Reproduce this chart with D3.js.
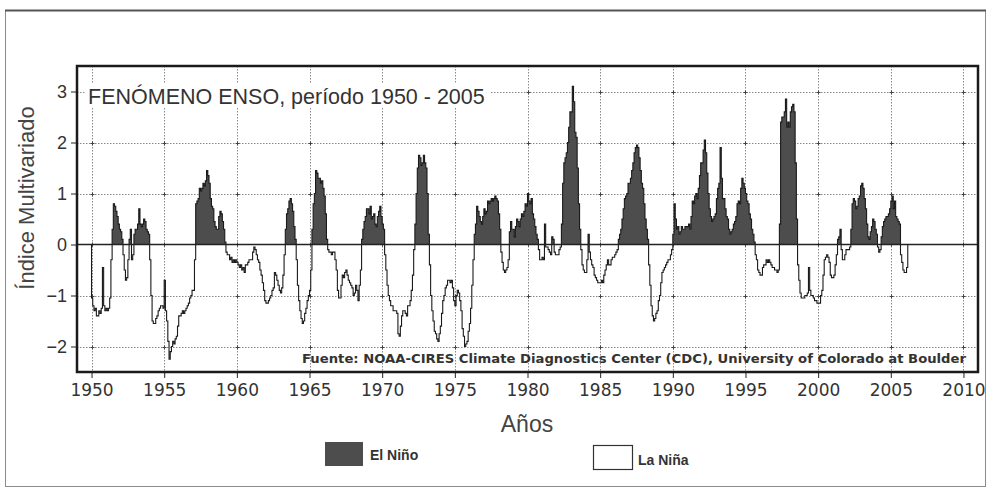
<!DOCTYPE html>
<html>
<head>
<meta charset="utf-8">
<script src="https://cdn.jsdelivr.net/npm/d3@7"></script>
<style>
  body { margin: 0; background: #fff; }
  svg { display: block; }
  .grid line { stroke: #8a8a8a; stroke-width: 1; stroke-dasharray: 1.5,1.5; }
  .axis path, .axis line { stroke: #222; }
  .axis text { fill: #333; }
</style>
</head>
<body>
<div id="chart"></div>
<script>
// Indice Multivariado ENSO (MEI), valores mensuales
const mei1950s = [
  -1.05, -1.2, -1.3, -1.25, -1.4, -1.4, -1.3, -1.35, -1.25, -0.45, -1.2, -1.3,
  -1.25, -1.3, -1.25, -1.05, -0.3, 0.3, 0.8, 0.75, 0.65, 0.55, 0.4, 0.3,
  0.25, 0.1, -0.2, -0.5, -0.7, -0.65, -0.3, 0.1, 0.3, -0.3, -0.2, 0.2,
  0.3, 0.3, 0.4, 0.7, 0.4, 0.35, 0.4, 0.5, 0.45, 0.3, 0.25, 0.2,
  -0.3, -1.0, -1.5, -1.55, -1.55, -1.45, -1.4, -1.3, -1.25, -1.2, -1.2, -1.25,
  -0.7, -1.3, -1.5, -1.9, -2.25, -2.1, -2.0, -1.9, -1.95, -1.85, -1.8, -1.6,
  -1.4, -1.4, -1.35, -1.3, -1.35, -1.3, -1.25, -1.2, -1.15, -1.05, -1.0, -0.9,
  -0.9, -0.3, 0.8, 0.85, 0.9, 1.1, 1.05, 1.1, 1.2, 1.15, 1.25, 1.45,
  1.35, 1.2, 0.9, 0.75, 0.7, 0.45, 0.35, 0.3, 0.3, 0.55, 0.65, 0.6,
  0.45, 0.3, 0.05, -0.15, -0.2, -0.2, -0.3, -0.25, -0.35, -0.3, -0.35, -0.3
]
const mei1960s = [
  -0.35, -0.4, -0.45, -0.4, -0.5, -0.45, -0.55, -0.4, -0.4, -0.35, -0.3, -0.3,
  -0.3, -0.15, -0.05, -0.1, -0.2, -0.3, -0.35, -0.5, -0.6, -0.75, -0.9, -1.1,
  -1.15, -1.15, -1.1, -1.05, -1.0, -0.9, -0.85, -0.55, -0.6, -0.7, -0.8, -0.9,
  -0.95, -0.85, -0.6, -0.2, 0.3, 0.6, 0.7, 0.85, 0.9, 0.8, 0.65, 0.35,
  0.1, -0.3, -0.8, -1.1, -1.3, -1.45, -1.55, -1.5, -1.35, -1.25, -1.1, -1.0,
  -0.9, -0.5, 0.3, 0.8, 1.0, 1.45, 1.4, 1.3, 1.3, 1.2, 1.25, 1.1,
  0.95, 0.6, 0.1, -0.1, -0.15, -0.15, -0.2, -0.15, -0.15, -0.3, -0.5, -0.9,
  -1.05, -1.05, -0.8, -0.6, -0.65, -0.55, -0.5, -0.6, -0.7, -0.75, -0.8, -0.85,
  -1.0, -0.95, -0.8, -0.9, -1.1, -0.8, -0.5, 0.1, 0.3, 0.45, 0.55, 0.7,
  0.7, 0.6, 0.75, 0.5, 0.55, 0.6, 0.4, 0.35, 0.55, 0.65, 0.75, 0.55
]
const mei1970s = [
  0.4, 0.3, -0.2, -0.5, -0.8, -1.0, -1.1, -1.2, -1.2, -1.3, -1.3, -1.3,
  -1.35, -1.75, -1.8, -1.6, -1.4, -1.3, -1.3, -1.35, -1.4, -1.2, -1.2, -1.1,
  -0.9, -0.6, -0.1, 0.4, 1.0, 1.5, 1.75, 1.7, 1.55, 1.6, 1.75, 1.6,
  1.5, 1.0, 0.2, -0.4, -1.0, -1.3, -1.5, -1.7, -1.75, -1.85, -1.9, -1.75,
  -1.6, -1.35, -1.1, -1.0, -0.85, -0.8, -0.7, -0.7, -0.75, -0.7, -0.85, -1.1,
  -1.2, -1.0, -0.9, -0.95, -1.1, -1.3, -1.65, -1.8, -2.0, -1.95, -1.9, -1.7,
  -1.55, -1.25, -0.8, -0.3, 0.2, 0.4, 0.75, 0.65, 0.55, 0.45, 0.4, 0.55,
  0.7, 0.6, 0.65, 0.85, 0.8, 0.85, 0.9, 0.85, 0.9, 0.95, 0.9, 0.85,
  0.6, 0.3, -0.15, -0.35, -0.5, -0.55, -0.5, -0.45, -0.3, 0.25, 0.45, 0.3,
  0.3, 0.15, 0.35, 0.5, 0.45, 0.35, 0.5, 0.6, 0.55, 0.65, 0.8, 0.75
]
const mei1980s = [
  1.0, 0.85, 0.8, 0.9, 0.6, 0.5, 0.35, 0.2, 0.1, -0.1, -0.3, -0.3,
  -0.25, -0.3, 0.4, -0.05, -0.05, -0.1, -0.15, -0.2, 0.15, 0.1, -0.15, -0.2,
  -0.2, -0.2, -0.1, -0.05, 0.4, 1.2, 1.6, 1.7, 1.8, 2.0, 2.3, 2.6,
  2.6, 3.1, 2.8, 2.2, 2.1, 1.5, 0.8, 0.3, -0.1, -0.4, -0.5, -0.55,
  -0.55, -0.3, 0.2, -0.15, -0.3, -0.4, -0.45, -0.6, -0.65, -0.7, -0.75, -0.75,
  -0.75, -0.7, -0.75, -0.6, -0.5, -0.4, -0.3, -0.4, -0.4, -0.3, -0.25, -0.25,
  -0.2, -0.15, -0.1, 0.1, 0.2, 0.3, 0.5, 0.7, 0.9, 0.95, 1.0, 1.2,
  1.2, 1.3, 1.45, 1.6, 1.8, 1.9, 1.95, 1.9, 1.7, 1.45, 1.2, 1.1,
  0.8, 0.5, 0.3, 0.1, -0.4, -0.8, -1.2, -1.4, -1.5, -1.45, -1.35, -1.3,
  -1.1, -1.0, -0.75, -0.55, -0.5, -0.45, -0.4, -0.35, -0.3, -0.3, -0.2, -0.1
]
const mei1990s = [
  0.2, 0.8, 0.5, 0.3, 0.35, 0.2, 0.25, 0.35, 0.3, 0.3, 0.35, 0.35,
  0.35, 0.4, 0.3, 0.55, 0.85, 0.8, 0.95, 1.0, 0.9, 1.1, 1.35, 1.6,
  1.6, 1.85, 2.05, 1.8, 1.4, 1.0, 0.7, 0.55, 0.45, 0.5, 0.55, 0.6,
  0.9, 1.1, 1.2, 1.9, 1.3, 0.9, 0.9, 0.7, 0.55, 0.5, 0.3, 0.2,
  0.25, 0.3, 0.4, 0.45, 0.55, 0.8, 0.85, 0.8, 1.1, 1.3, 1.2, 1.1,
  1.0, 0.85, 0.8, 0.6, 0.5, 0.3, 0.2, 0.05, -0.2, -0.3, -0.5, -0.55,
  -0.6, -0.6, -0.45, -0.4, -0.4, -0.3, -0.35, -0.3, -0.35, -0.4, -0.45, -0.45,
  -0.5, -0.5, -0.55, -0.5, 0.4, 2.4, 2.5, 2.5, 2.6, 2.85, 2.3, 2.4,
  2.3, 2.6, 2.7, 2.75, 2.6, 1.6, 0.5, -0.4, -0.7, -0.95, -1.05, -1.05,
  -1.05, -1.0, -1.0, -0.95, -0.45, -0.9, -1.0, -1.0, -1.05, -1.1, -1.1, -1.15
]
const mei2000s = [
  -1.15, -1.15, -1.0, -0.9, -0.6, -0.3, -0.25, -0.2, -0.25, -0.35, -0.6, -0.65,
  -0.65, -0.6, -0.4, -0.2, 0.1, 0.15, 0.3, -0.1, -0.3, -0.3, -0.2, -0.1,
  -0.1, -0.1, -0.05, 0.3, 0.8, 0.9, 0.85, 0.7, 0.75, 0.9, 0.95, 1.15,
  1.2, 1.1, 0.9, 0.7, 0.4, 0.15, 0.1, 0.25, 0.35, 0.5, 0.45, 0.3,
  0.2, -0.05, -0.15, -0.1, 0.15, 0.35, 0.45, 0.5, 0.55, 0.55, 0.6, 0.7,
  0.85, 0.95, 0.7, 0.85, 0.55, 0.5, 0.45, 0.4, -0.2, -0.35, -0.5, -0.55,
  -0.55, -0.45
]
const startYear = 1950
const xTicks = [1950, 1955, 1960, 1965, 1970, 1975, 1980, 1985, 1990, 1995, 2000, 2005, 2010]
const yTicks = [-2, -1, 0, 1, 2, 3]

const mei = [].concat(mei1950s, mei1960s, mei1970s, mei1980s, mei1990s, mei2000s)

// puntos (anio, valor); se cierra en cero al principio y al final
var pts = mei.map(function(v, i) { return {t: startYear + i / 12, v: v} })
var endT = startYear + mei.length / 12
pts = [{t: startYear, v: 0}].concat(pts, [{t: endT, v: mei[mei.length - 1]}, {t: endT, v: 0}])

const W = 989, H = 489
const pLeft = 77, pRight = 978, pTop = 66, pBottom = 372

var x = d3.scaleLinear().domain([1949, 2011]).range([pLeft, pRight])
var y = d3.scaleLinear().domain([-2.5, 3.5]).range([pBottom, pTop])

const svg = d3.select("#chart").append("svg")
    .attr("width", W)
    .attr("height", H)
    .style("font-family", "'Liberation Sans', Arial, sans-serif")

// marco exterior
svg.append("rect")
    .attr("x", 5.5).attr("y", 10.5)
    .attr("width", 980).attr("height", 476)
    .attr("fill", "none")
    .attr("stroke", "#8c8c8c")
    .attr("stroke-width", 1)
svg.append("line")
    .attr("x1", 5).attr("x2", 986).attr("y1", 10.5).attr("y2", 10.5)
    .attr("stroke", "#555").attr("stroke-width", 2)

// rejilla punteada
var grid = svg.append("g").attr("class", "grid")
grid.selectAll(".gh").data(yTicks).enter().append("line")
    .attr("x1", pLeft).attr("x2", pRight)
    .attr("y1", function(d) { return Math.round(y(d)) + 0.5 })
    .attr("y2", function(d) { return Math.round(y(d)) + 0.5 })
grid.selectAll(".gv").data(xTicks).enter().append("line")
    .attr("x1", function(d) { return Math.round(x(d)) + 0.5 })
    .attr("x2", function(d) { return Math.round(x(d)) + 0.5 })
    .attr("y1", pTop).attr("y2", pBottom)

// pequenas cruces en las intersecciones
var cross = []
xTicks.forEach(function(a) { yTicks.forEach(function(b) { cross.push([a, b]) }) })
svg.append("g").selectAll("path").data(cross).enter().append("path")
    .attr("d", function(d) {
        var cx = Math.round(x(d[0])) + 0.5, cy = Math.round(y(d[1])) + 0.5
        return "M" + (cx - 2) + "," + cy + "H" + (cx + 2) + "M" + cx + "," + (cy - 2) + "V" + (cy + 2)
    })
    .attr("stroke", "#444").attr("stroke-width", 1)

// titulo con fondo blanco
var title = svg.append("g")
title.append("rect")
    .attr("x", 86).attr("y", 84).attr("width", 404).attr("height", 24)
    .attr("fill", "#fff")
title.append("text")
    .attr("x", 88).attr("y", 104)
    .attr("font-size", 21.5)
    .attr("fill", "#333")
    .text("FENÓMENO ENSO, período 1950 - 2005")

// fuente
svg.append("text")
    .attr("x", 302).attr("y", 363)
    .attr("font-family", "'DejaVu Sans', sans-serif")
    .attr("font-size", 12)
    .attr("font-weight", "bold")
    .attr("fill", "#333")
    .attr("textLength", 664)
    .attr("lengthAdjust", "spacingAndGlyphs")
    .text("Fuente: NOAA-CIRES Climate Diagnostics Center (CDC), University of Colorado at Boulder")

// area positiva (El Niño) rellena
svg.append("clipPath").attr("id", "pos")
    .append("rect")
    .attr("x", pLeft).attr("y", pTop)
    .attr("width", pRight - pLeft).attr("height", y(0) - pTop)

var area = d3.area()
    .curve(d3.curveStepAfter)
    .x(function(d) { return x(d.t) })
    .y0(y(0))
    .y1(function(d) { return y(d.v) })

svg.append("path")
    .datum(pts)
    .attr("clip-path", "url(#pos)")
    .attr("d", area)
    .attr("fill", "#4d4d4d")

var line = d3.line()
    .curve(d3.curveStepAfter)
    .x(function(d) { return x(d.t) })
    .y(function(d) { return y(d.v) })

svg.append("path")
    .datum(pts)
    .attr("d", line)
    .attr("fill", "none")
    .attr("stroke", "#1a1a1a")
    .attr("stroke-width", 1.1)

// linea del cero
svg.append("line")
    .attr("x1", pLeft).attr("x2", pRight)
    .attr("y1", y(0)).attr("y2", y(0))
    .attr("stroke", "#222").attr("stroke-width", 1.5)

// ejes
var xAxis = svg.append("g")
    .attr("class", "axis")
    .attr("transform", "translate(0," + pBottom + ")")
    .call(d3.axisBottom(x).tickValues(xTicks).tickFormat(d3.format("d")).tickSize(6).tickSizeOuter(0))
xAxis.select(".domain").remove()
xAxis.selectAll("text")
    .attr("font-family", "'DejaVu Sans', sans-serif")
    .attr("font-size", 17)
    .attr("dy", "0.9em")

var yAxis = svg.append("g")
    .attr("class", "axis")
    .attr("transform", "translate(" + pLeft + ",0)")
    .call(d3.axisLeft(y).tickValues(yTicks).tickFormat(d3.format("d")).tickSize(6).tickSizeOuter(0))
yAxis.select(".domain").remove()
yAxis.selectAll("text")
    .attr("font-family", "'Liberation Sans', Arial, sans-serif")
    .attr("font-size", 18)
    .attr("x", -10)

// marco del grafico
svg.append("rect")
    .attr("x", pLeft).attr("y", pTop)
    .attr("width", pRight - pLeft).attr("height", pBottom - pTop)
    .attr("fill", "none")
    .attr("stroke", "#1a1a1a")
    .attr("stroke-width", 2.5)

// titulos de ejes
svg.append("text")
    .attr("x", 527).attr("y", 432)
    .attr("text-anchor", "middle")
    .attr("font-size", 23)
    .attr("fill", "#444")
    .text("Años")

svg.append("text")
    .attr("transform", "translate(34,198) rotate(-90)")
    .attr("text-anchor", "middle")
    .attr("font-size", 22)
    .attr("fill", "#444")
    .text("Índice Multivariado")

// leyenda
var legend = svg.append("g").attr("font-size", 14).attr("font-weight", "bold").attr("fill", "#333")
legend.append("rect")
    .attr("x", 325).attr("y", 442).attr("width", 38).attr("height", 24)
    .attr("fill", "#4d4d4d")
legend.append("text").attr("x", 370).attr("y", 460).text("El Niño")
legend.append("rect")
    .attr("x", 593.5).attr("y", 445.5).attr("width", 39).attr("height", 24)
    .attr("fill", "#fff").attr("stroke", "#333").attr("stroke-width", 1.2)
legend.append("text").attr("x", 638).attr("y", 465).text("La Niña")
</script>
</body>
</html>
